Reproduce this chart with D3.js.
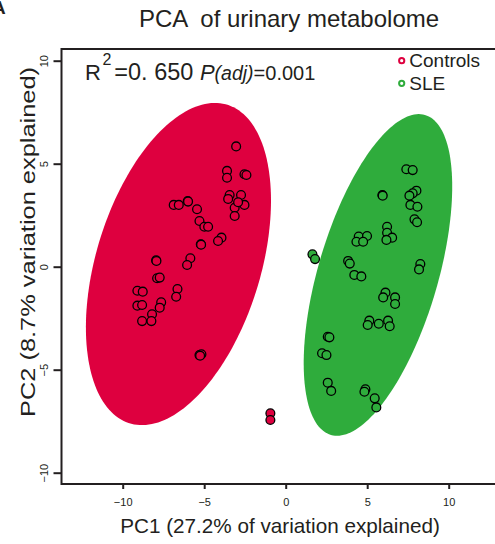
<!DOCTYPE html>
<html>
<head>
<meta charset="utf-8">
<script src="https://cdn.jsdelivr.net/npm/d3@7"></script>
<style>
  html, body { margin: 0; padding: 0; background: #ffffff; }
  svg { display: block; font-family: "Liberation Sans", Arial, Helvetica, sans-serif; }
</style>
</head>
<body>
<svg id="chart" width="495" height="544"></svg>
<script>
// Sample scores on the first two principal components
const groups = ["Controls", "SLE"];
const groupColors = ["#DE003F", "#2FAC3C"];

const controlsPC1 = [-3.04, -3.60, -3.60, -2.53, -2.41, -3.44, -2.74, -3.53, -2.53, -3.13, -3.13, -2.92,
  -6.87, -6.56, -6.01, -5.99, -5.44, -5.29, -4.99, -4.76, -3.94, -4.15, -5.21, -5.19, -5.85, -6.05,
  -7.95, -7.93, -7.89, -7.73, -9.10, -8.77, -6.64, -6.72, -9.10, -8.81, -7.64, -7.73, -8.20, -8.81,
  -8.24, -5.29, -5.17, -5.25, -0.94, -0.94];
const controlsPC2 = [5.84, 4.65, 4.32, 4.49, 4.45, 3.48, 3.48, 3.29, 3.00, 2.86, 2.46, 3.13,
  3.00, 3.00, 3.19, 3.16, 2.79, 2.22, 1.94, 1.94, 1.41, 1.25, 1.09, 1.07, 0.41, 0.08,
  0.31, 0.28, -0.56, -0.53, -1.17, -1.21, -1.08, -1.46, -1.89, -1.86, -1.73, -1.99, -2.31, -2.64,
  -2.64, -4.29, -4.25, -4.32, -7.12, -7.44];

const slePC1 = [7.40, 7.79, 5.93, 5.95, 8.02, 7.79, 7.59, 7.65, 8.08, 7.90, 8.06, 6.22, 6.22, 6.53,
  6.18, 4.48, 4.99, 4.34, 4.75, 1.64, 1.80, 3.83, 3.93, 4.21, 4.64, 8.26, 8.18, 6.12, 5.98, 6.71,
  6.71, 5.13, 5.03, 5.71, 6.28, 6.38, 2.58, 2.68, 2.23, 2.50, 2.58, 2.79, 4.89, 4.83, 5.46, 5.56];
const slePC2 = [4.73, 4.69, 3.48, 3.45, 3.69, 3.56, 3.45, 3.00, 2.91, 2.30, 2.16, 1.94, 1.65, 1.41,
  1.30, 1.46, 1.49, 1.21, 1.21, 0.60, 0.37, 0.28, 0.15, -0.40, -0.47, 0.13, -0.13, -1.26, -1.49, -1.49,
  -1.81, -2.62, -2.83, -2.77, -2.62, -2.89, -3.40, -3.43, -4.20, -4.29, -5.63, -6.03, -5.95, -6.07, -6.39, -6.83];

// Confidence ellipses per group: centre, semi-axes (major, minor), major-axis angle in degrees
const ellipseCenters = [[-6.58, 0.13], [5.66, -0.40]];
const ellipseAxes = [[8.33, 4.90], [8.30, 3.58]];
const ellipseAngles = [64.8, 67.9];

const xTicks = [-10, -5, 0, 5, 10];
const yTicks = [-10, -5, 0, 5, 10];

const titleText = "PCA  of urinary metabolome";
const xLabel = "PC1 (27.2% of variation explained)";
const yLabel = "PC2 (8.7% variation explained)";

const svg = d3.select("#chart");
const ink = "#231F20";

const x = d3.scaleLinear().domain([-10, 10]).range([122.7, 448.7]);
const y = d3.scaleLinear().domain([-10, 10]).range([472.7, 60.7]);

const box = { left: 61.5, top: 49, right: 520, bottom: 484 };

// Panel letter (runs off the left edge of the page)
svg.append("text")
  .attr("x", -8).attr("y", 14)
  .attr("font-size", 19).attr("font-weight", "bold").attr("fill", ink)
  .text("A");

// Title
svg.append("text")
  .attr("x", 289).attr("y", 27)
  .attr("text-anchor", "middle")
  .attr("font-size", 24).attr("fill", ink)
  .style("white-space", "pre")
  .text(titleText);

// Ellipses
const ellipseLine = d3.line().x(d => x(d[0])).y(d => y(d[1])).curve(d3.curveLinearClosed);
function ellipsePoints(c, ax, angDeg) {
  const th = angDeg * Math.PI / 180, ct = Math.cos(th), st = Math.sin(th);
  return d3.range(0, 360, 2).map(deg => {
    const t = deg * Math.PI / 180;
    const u = ax[0] * Math.cos(t), v = ax[1] * Math.sin(t);
    return [c[0] + u * ct - v * st, c[1] + u * st + v * ct];
  });
}
svg.append("g").selectAll("path")
  .data(groups)
  .join("path")
  .attr("d", (g, i) => ellipseLine(ellipsePoints(ellipseCenters[i], ellipseAxes[i], ellipseAngles[i])))
  .attr("fill", (g, i) => groupColors[i])
  .attr("stroke", "none");

// Sample points
const samples = [
  ...controlsPC1.map((v, i) => ({ pc1: v, pc2: controlsPC2[i], g: 0 })),
  ...slePC1.map((v, i) => ({ pc1: v, pc2: slePC2[i], g: 1 }))
];
svg.append("g").selectAll("circle")
  .data(samples)
  .join("circle")
  .attr("cx", d => x(d.pc1))
  .attr("cy", d => y(d.pc2))
  .attr("r", 4.4)
  .attr("fill", d => groupColors[d.g])
  .attr("stroke", "#000")
  .attr("stroke-width", 1.3);

// Frame
svg.append("rect")
  .attr("x", box.left).attr("y", box.top)
  .attr("width", box.right - box.left).attr("height", box.bottom - box.top)
  .attr("fill", "none").attr("stroke", ink).attr("stroke-width", 2);

// Bottom axis
const xAxis = svg.append("g")
  .attr("transform", `translate(0,${box.bottom})`)
  .call(d3.axisBottom(x).tickValues(xTicks).tickSize(5).tickPadding(9)
    .tickFormat(d => d3.format("d")(d).replace("-", "\u2212")));
xAxis.select(".domain").remove();
xAxis.selectAll(".tick line").attr("stroke", ink).attr("stroke-width", 2);
xAxis.selectAll(".tick text").attr("font-size", 11).attr("fill", ink)
  .attr("font-family", "Liberation Sans, Arial, sans-serif");

// Left axis with rotated tick labels
const yAxis = svg.append("g")
  .attr("transform", `translate(${box.left},0)`)
  .call(d3.axisLeft(y).tickValues(yTicks).tickSize(8).tickPadding(0)
    .tickFormat(d => d3.format("d")(d).replace("-", "\u2212")));
yAxis.select(".domain").remove();
yAxis.selectAll(".tick line").attr("stroke", ink).attr("stroke-width", 2);
yAxis.selectAll(".tick text")
  .attr("font-size", 11).attr("fill", ink)
  .attr("font-family", "Liberation Sans, Arial, sans-serif")
  .attr("x", null).attr("dy", null)
  .attr("text-anchor", "middle")
  .attr("transform", "translate(-13.5,0) rotate(-90)");

// Axis titles
svg.append("text")
  .attr("x", 280).attr("y", 533)
  .attr("text-anchor", "middle")
  .attr("font-size", 20.7).attr("fill", ink)
  .text(xLabel);
svg.append("text")
  .attr("transform", "translate(35,242) rotate(-90)")
  .attr("text-anchor", "middle")
  .attr("font-size", 21).attr("fill", ink)
  .attr("textLength", 350).attr("lengthAdjust", "spacingAndGlyphs")
  .text(yLabel);

// Fit statistics
const stat = svg.append("text").attr("x", 85).attr("y", 79.5).attr("fill", ink);
stat.append("tspan").attr("font-size", 22).text("R");
stat.append("tspan").attr("font-size", 16).attr("dx", 1.5).attr("dy", -15).text("2");
stat.append("tspan").attr("font-size", 23.5).attr("dx", 3).attr("dy", 15).text("=0. 650 ");
stat.append("tspan").attr("font-size", 22).attr("font-style", "italic").text("P");
stat.append("tspan").attr("font-size", 19.5).attr("font-style", "italic").text("(adj)");
stat.append("tspan").attr("font-size", 20).text("=0.001");

// Legend
const legend = svg.append("g").selectAll("g")
  .data(groups)
  .join("g")
  .attr("transform", (g, i) => `translate(401.7,${60.7 + i * 22.6})`);
legend.append("circle")
  .attr("r", 2.6)
  .attr("fill", "#fff")
  .attr("stroke", (g, i) => groupColors[i])
  .attr("stroke-width", 2);
legend.append("text")
  .attr("x", 7.6).attr("y", 6.5)
  .attr("font-size", 19).attr("fill", ink)
  .text(g => g);
</script>
</body>
</html>
